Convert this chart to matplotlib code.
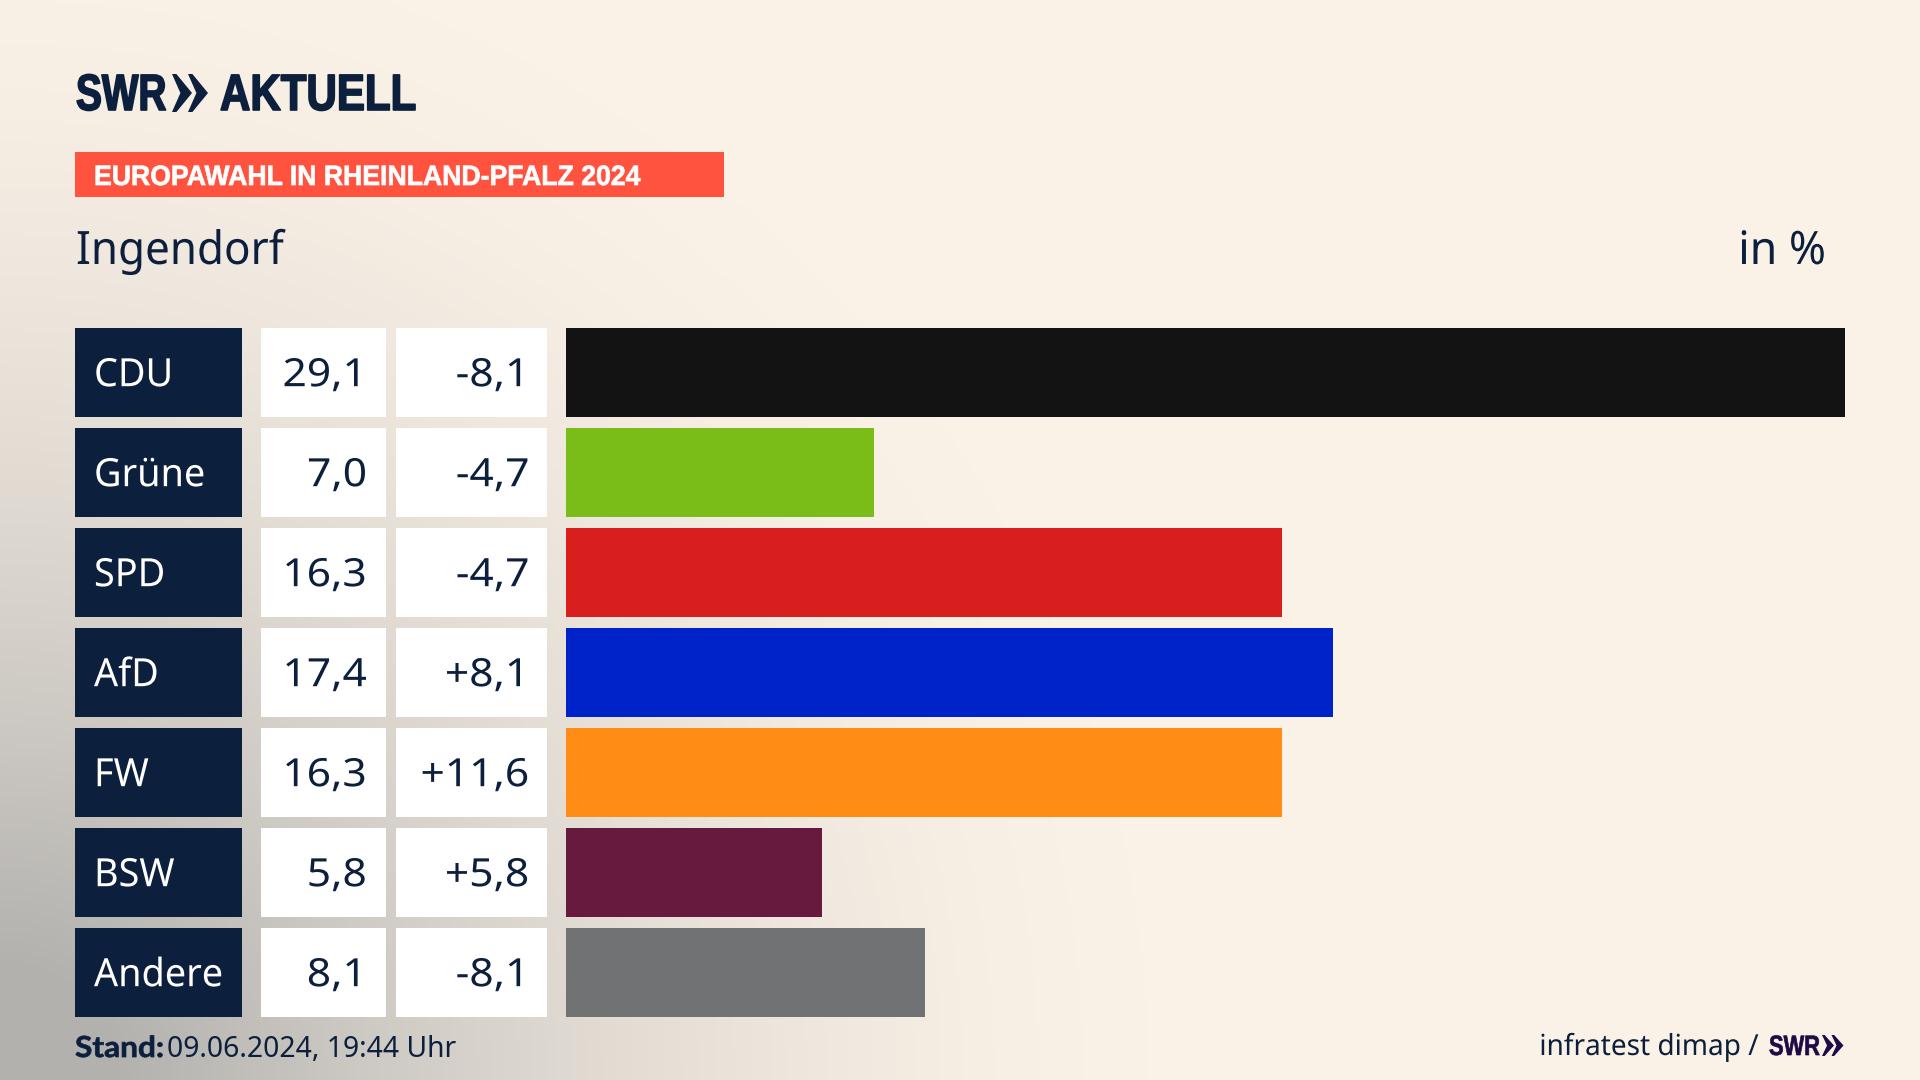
import numpy as np
import matplotlib
matplotlib.use('Agg')
import matplotlib.pyplot as plt
from matplotlib.colors import LinearSegmentedColormap
from matplotlib.patches import Polygon
from matplotlib.patheffects import AbstractPathEffect
from matplotlib.transforms import Affine2D

parties = ['CDU', 'Grüne', 'SPD', 'AfD', 'FW', 'BSW', 'Andere']
shares = ['29,1', '7,0', '16,3', '17,4', '16,3', '5,8', '8,1']
changes = ['-8,1', '-4,7', '-4,7', '+8,1', '+11,6', '+5,8', '-8,1']
# bar lengths as measured, slightly finer than the printed labels
bar_lengths = [29.1, 7.0, 16.3, 17.46, 16.3, 5.82, 8.16]
party_colors = ['#131313', '#7ABD19', '#D81F1E', '#0022C9', '#FF8C14', '#671A3E', '#717274']

NAVY = '#0C1F3D'
LOGO = '#1E0A46'
plt.rcParams['font.family'] = ['Noto Sans', 'DejaVu Sans']

W, H = 1920, 1080
fig = plt.figure(figsize=(W / 100, H / 100), dpi=100)


class Squeeze(AbstractPathEffect):
    # no condensed fonts here, so scale the glyphs in x around an anchor pixel
    def __init__(self, sx, x0, stroke=0):
        super().__init__()
        self.sx = sx
        self.x0 = x0
        self.stroke = stroke

    def draw_path(self, renderer, gc, tpath, affine, rgbFace=None):
        t = Affine2D().translate(-self.x0, 0).scale(self.sx, 1).translate(self.x0, 0)
        gc0 = renderer.new_gc()
        gc0.copy_properties(gc)
        if self.stroke:
            # thicken the strokes a little, the original face is heavier
            gc0.set_foreground(rgbFace)
            gc0.set_linewidth(self.stroke)
        renderer.draw_path(gc0, tpath, affine + t, rgbFace)
        gc0.restore()


def px(size):
    return size * 0.72


def label(ax, x, y, s, size, color, sx=1.0, stroke=0, ha='left', va='baseline', **kw):
    t = ax.text(x, y, s, fontsize=px(size), color=color, ha=ha, va=va, zorder=3, **kw)
    if sx != 1.0 or stroke:
        t.set_path_effects([Squeeze(sx, x, stroke)])
    return t


# page in pixel coordinates, background + header + footer live here
page = fig.add_axes([0, 0, 1, 1])

xx, yy = np.meshgrid(np.linspace(0, 1, 480), np.linspace(0, 1, 270))
dist = np.sqrt((xx / 0.62) ** 2 + ((1 - yy) / 1.1) ** 2)
shade = np.clip(1 - dist, 0, 1) ** 1.7
bg = LinearSegmentedColormap.from_list('bg', ['#FBF2E7', '#B2B1AE'])
page.imshow(shade, cmap=bg, vmin=0, vmax=0.85, extent=[0, W, H, 0], aspect='auto', zorder=0)
page.set_xlim(0, W)
page.set_ylim(H, 0)
page.axis('off')


def chevrons(x, top, bottom, w, step, color):
    mid = (top + bottom) / 2
    for dx in (0, step):
        page.add_patch(Polygon([[x + dx, top], [x + dx + w * 0.22, top], [x + dx + w, mid],
                                [x + dx + w * 0.22, bottom], [x + dx, bottom], [x + dx + w * 0.42, mid]],
                               closed=True, color=color, lw=0, zorder=3))


# logo
label(page, 76, 110, 'SWR', 51, NAVY, sx=0.76, stroke=1.2, fontweight='bold', family='Liberation Sans')
chevrons(172, 74, 112, 20, 16, NAVY)
label(page, 220, 110, 'AKTUELL', 51, NAVY, sx=0.825, stroke=1.2, fontweight='bold', family='Liberation Sans')

# banner and titles
page.fill_between([75, 724], 152, 197, color='#FF5340', lw=0, zorder=2)
label(page, 94, 185, 'EUROPAWAHL IN RHEINLAND-PFALZ 2024', 28, 'white', sx=0.951, stroke=0.5,
      fontweight='bold', family='Liberation Sans')
label(page, 76, 264, 'Ingendorf', 46, NAVY, sx=0.955)
label(page, 1826, 264, 'in %', 46, NAVY, sx=0.97, ha='right')

# footer
label(page, 75, 1057, 'Stand:', 29, NAVY, sx=1.09, stroke=0.5, fontweight='bold', family='Lato')
label(page, 167, 1057, '09.06.2024, 19:44 Uhr', 28.3, NAVY)
label(page, 1759, 1055, 'infratest dimap /', 29, NAVY, sx=0.965, ha='right')
label(page, 1769, 1055, 'SWR', 28, LOGO, sx=0.78, stroke=0.5, fontweight='bold', family='Liberation Sans')
chevrons(1822, 1035, 1056, 12, 9.5, LOGO)

rows = np.arange(len(parties))
top_px, bottom_px = 322.5, 1022.5

# table columns share the row scale with the bars
table = fig.add_axes([0, 1 - bottom_px / H, 1, (bottom_px - top_px) / H])
table.set_xlim(0, W)
table.set_ylim(6.5, -0.5)
table.axis('off')
table.patch.set_alpha(0)
table.barh(rows, 167, left=75, height=0.885, color=NAVY, lw=0)
table.barh(rows, 125, left=261, height=0.885, color='white', lw=0)
table.barh(rows, 151, left=396, height=0.885, color='white', lw=0)
for r, name, share, change in zip(rows, parties, shares, changes):
    y = r - 0.008
    label(table, 94, y, name, 39, 'white', sx=0.97, va='center_baseline')
    label(table, 367, y, share, 39, NAVY, sx=1.09, ha='right', va='center_baseline')
    label(table, 529.5, y, change, 39, NAVY, sx=1.09, ha='right', va='center_baseline')

ax = fig.add_axes([566 / W, 1 - bottom_px / H, (1845 - 566) / W, (bottom_px - top_px) / H])
ax.barh(rows, bar_lengths, height=0.885, color=party_colors, lw=0)
ax.set_xlim(0, max(bar_lengths))
ax.set_ylim(6.5, -0.5)
ax.axis('off')
ax.patch.set_alpha(0)

fig.savefig('out.png', dpi=100)
